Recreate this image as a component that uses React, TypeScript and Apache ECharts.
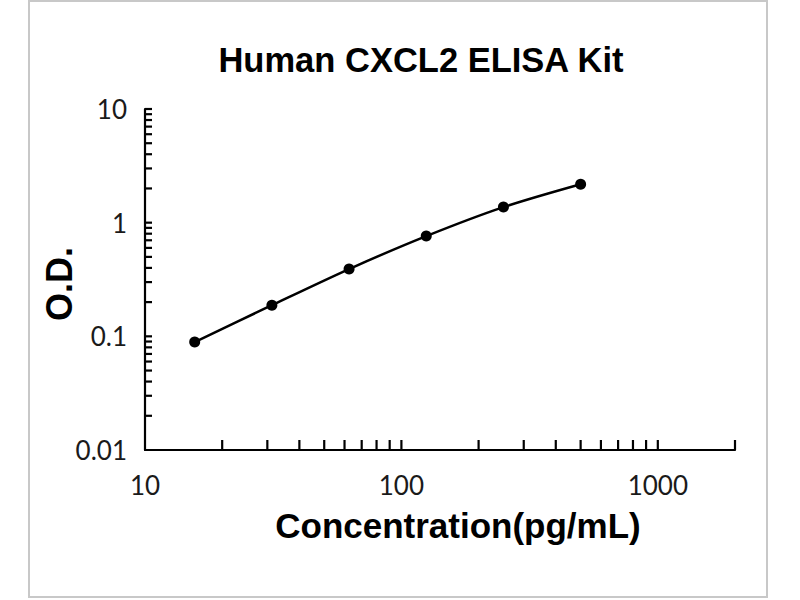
import React, { useEffect, useRef } from "react";
import * as echarts from "echarts";

const TITLE = "Human CXCL2 ELISA Kit";
const X_NAME = "Concentration(pg/mL)";
const Y_NAME = "O.D.";

const concentrations = [15.625, 31.25, 62.5, 125, 250, 500];
const odValues = [0.089, 0.188, 0.391, 0.762, 1.371, 2.18];

const X_MIN = 10;
const X_MAX = 2000;
const Y_MIN = 0.01;
const Y_MAX = 10;

const xLabelValues = [10, 100, 1000];
const yLabelValues = [0.01, 0.1, 1, 10];

const xTickValues = [20, 30, 40, 50, 60, 70, 80, 90, 100, 200, 300, 400, 500, 600, 700, 800, 900, 1000, 2000];
const yTickValues = [
  0.02, 0.03, 0.04, 0.05, 0.06, 0.07, 0.08, 0.09, 0.1,
  0.2, 0.3, 0.4, 0.5, 0.6, 0.7, 0.8, 0.9, 1,
  2, 3, 4, 5, 6, 7, 8, 9, 10,
];

const near = (v: number, list: number[]) => list.some((t) => Math.abs(Math.log10(v) - Math.log10(t)) < 1e-6);

export default function App() {
  const ref = useRef<HTMLDivElement>(null);

  useEffect(() => {
    if (!ref.current) return;
    const chart = echarts.init(ref.current, null, { renderer: "svg" });
    const tickFont = "Lato";
    const option: any = {
      animation: false,
      backgroundColor: "#ffffff",
      grid: { left: 145, right: 65, top: 109, bottom: 150, containLabel: false },
      xAxis: {
        type: "log",
        logBase: 10,
        min: X_MIN,
        max: X_MAX,
        axisLine: { show: true, onZero: false, lineStyle: { color: "#000", width: 2.2 } },
        axisTick: { show: false },
        splitLine: { show: false },
        minorTick: { show: false },
        axisLabel: {
          margin: 35,
          verticalAlign: "middle",
          fontFamily: tickFont,
          fontSize: 26,
          color: "#1a1a1a",
          showMaxLabel: false,
          formatter: (v: number) => (near(v, xLabelValues) ? String(Math.round(v)) : ""),
        },
      },
      yAxis: {
        type: "log",
        logBase: 10,
        min: Y_MIN,
        max: Y_MAX,
        axisLine: { show: true, onZero: false, lineStyle: { color: "#000", width: 2.2 } },
        axisTick: { show: false },
        splitLine: { show: false },
        axisLabel: {
          margin: 18,
          fontFamily: tickFont,
          fontSize: 26,
          color: "#1a1a1a",
          formatter: (v: number) => (near(v, yLabelValues) ? String(+v.toPrecision(3)) : ""),
        },
      },
      graphic: [
        {
          type: "rect",
          shape: { x: 29, y: 1, width: 738, height: 596 },
          style: { fill: "none", stroke: "#c8c8c8", lineWidth: 2 },
          silent: true,
        },
        {
          type: "text",
          x: 421,
          y: 60,
          style: {
            text: TITLE,
            fontFamily: "Liberation Sans",
            fontWeight: "bold",
            fontSize: 34.5,
            fill: "#000",
            align: "center",
            verticalAlign: "middle",
          },
        },
        {
          type: "text",
          x: 458,
          y: 525,
          style: {
            text: X_NAME,
            fontFamily: "Liberation Sans",
            fontWeight: "bold",
            fontSize: 35,
            fill: "#000",
            align: "center",
            verticalAlign: "middle",
          },
        },
        {
          type: "text",
          x: 59,
          y: 284,
          rotation: Math.PI / 2,
          style: {
            text: Y_NAME,
            fontFamily: "Liberation Sans",
            fontWeight: "bold",
            fontSize: 36,
            fill: "#000",
            align: "center",
            verticalAlign: "middle",
          },
        },
      ],
      series: [
        {
          type: "line",
          data: concentrations.map((c, i) => [c, odValues[i]]),
          smooth: 0.3,
          symbol: "circle",
          symbolSize: 11,
          itemStyle: { color: "#000" },
          lineStyle: { color: "#000", width: 2.5 },
          z: 5,
        },
        {
          type: "custom",
          silent: true,
          clip: false,
          data: xTickValues.map((v) => [v, Y_MIN]),
          encode: { x: 0, y: 1 },
          renderItem: (_p: any, api: any) => {
            const pt = api.coord([api.value(0), Y_MIN]);
            return {
              type: "line",
              shape: { x1: pt[0], y1: pt[1], x2: pt[0], y2: pt[1] - 10 },
              style: { stroke: "#000", lineWidth: 2.2 },
            };
          },
          z: 4,
        },
        {
          type: "custom",
          silent: true,
          clip: false,
          data: yTickValues.map((v) => [X_MIN, v]),
          encode: { x: 0, y: 1 },
          renderItem: (_p: any, api: any) => {
            const pt = api.coord([X_MIN, api.value(1)]);
            return {
              type: "line",
              shape: { x1: pt[0], y1: pt[1], x2: pt[0] + 7, y2: pt[1] },
              style: { stroke: "#000", lineWidth: 2.2 },
            };
          },
          z: 4,
        },
      ],
    };
    chart.setOption(option);
    return () => chart.dispose();
  }, []);

  return (
    <div
      ref={ref}
      style={{ position: "absolute", left: 0, top: 0, width: 800, height: 600, background: "#fff" }}
    />
  );
}
